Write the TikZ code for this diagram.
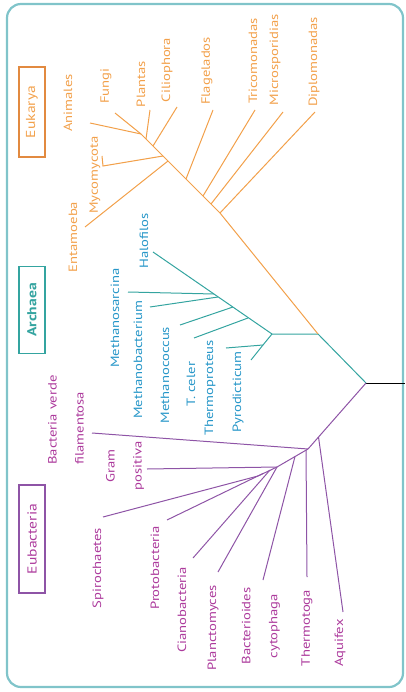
\documentclass[tikz,border=0pt]{standalone}
\usepackage{fontspec}
\setmainfont{PT Sans}

\definecolor{eukorange}{RGB}{242,160,74}
\definecolor{eukboxcol}{RGB}{226,138,64}
\definecolor{arcteal}{RGB}{52,164,160}
\definecolor{arcblue}{RGB}{38,150,200}
\definecolor{eubpurple}{RGB}{142,84,166}
\definecolor{eubmagenta}{RGB}{172,58,156}
\definecolor{framecol}{RGB}{128,196,202}

\newcommand{\labstretch}{1.22}
\newcommand{\pagewidth}{406}
\newcommand{\pageheight}{692}

\begin{document}
\begin{tikzpicture}[x=1pt, y=-1pt,
    lab/.style={rotate=90, xscale=\labstretch, inner sep=0pt, font=\fontsize{12}{14}\selectfont},
    euklab/.style={lab, text=eukorange},
    arclab/.style={lab, text=arcblue},
    eublab/.style={lab, text=eubmagenta},
    twoline/.style={font=\fontsize{12}{27}\selectfont},
    groupbox/.style={rotate=90, xscale=1.2, draw, line width=1.1pt, inner sep=0pt,
      minimum height=26pt, font=\fontsize{13}{15}\selectfont},
    eukline/.style={eukorange, line width=1pt},
    arcline/.style={arcteal, line width=1pt},
    eubline/.style={eubpurple, line width=1pt}]
  \useasboundingbox (0,0) rectangle (\pagewidth,\pageheight);
  % Draw the frame
  \draw[framecol, line width=2.2pt, rounded corners=14pt] (7,4) rectangle (403,687);

  % Define the root and the fork points
  \coordinate (root) at (366,383);
  \coordinate (rootend) at (405,383);
  \coordinate (a0) at (318,334);
  \coordinate (a1) at (272,334);
  \coordinate (a2) at (263,345);
  \coordinate (b0) at (308,449);
  \coordinate (b1) at (277,467);
  \coordinate (b2) at (258,476);
  \coordinate (ebend) at (220,213);
  \coordinate (etop) at (141,134);

  % Draw the trunk
  \draw[line width=1pt] (root) -- (rootend);
  \draw[arcline] (root) -- (a0) -- (a1);
  \draw[eukline] (a0) -- (ebend) -- (etop);
  \draw[eubline] (root) -- (b0) -- (b1) -- (b2);

  % Eukarya
  \node[groupbox, draw=eukboxcol, text=eukorange, minimum width=75pt] (eukarya) at (32,112) {Eukarya};
  \coordinate (jplant) at (146,139);
  \coordinate (jcilio) at (153,146);
  \coordinate (jmyco) at (163,156);
  \coordinate (jentam) at (168,161);
  \coordinate (jflag) at (186,179);
  \coordinate (jtrico) at (203,196);
  \coordinate (jmicro) at (211,204);
  \coordinate (anim) at (90,123);
  \coordinate (fungi) at (115,113);
  \coordinate (plant) at (150,110);
  \coordinate (cilio) at (177,107);
  \coordinate (flag) at (213,110);
  \coordinate (trico) at (255,110);
  \coordinate (micro) at (283,112);
  \coordinate (diplo) at (315,112);
  \coordinate (myco) at (103,166);
  \coordinate (mycotop) at (102,156);
  \coordinate (entam) at (85,227);
  \draw[eukline] (anim) -- (etop);
  \draw[eukline] (fungi) -- (etop);
  \draw[eukline] (plant) -- (jplant);
  \draw[eukline] (cilio) -- (jcilio);
  \draw[eukline] (mycotop) -- (myco) -- (jmyco);
  \draw[eukline] (entam) -- (jentam);
  \draw[eukline] (flag) -- (jflag);
  \draw[eukline] (trico) -- (jtrico);
  \draw[eukline] (micro) -- (jmicro);
  \draw[eukline] (diplo) -- (ebend);
  \node[euklab] (lanim) at (68,103) {Animales};
  \node[euklab] (lfungi) at (106,86) {Fungi};
  \node[euklab] (lplant) at (141,84) {Plantas};
  \node[euklab] (lcilio) at (167,70) {Ciliophora};
  \node[euklab] (lflag) at (207,71) {Flagelados};
  \node[euklab] (ltrico) at (253,61) {Tricomonadas};
  \node[euklab] (lmicro) at (275,60) {Microsporidias};
  \node[euklab] (ldiplo) at (314,62) {Diplomonadas};
  \node[euklab] (lmyco) at (95,175) {Mycomycota};
  \node[euklab] (lentam) at (73,237) {Entamoeba};

  % Archaea
  \node[groupbox, draw=arcteal, text=arcteal, minimum width=72pt, font=\fontsize{13}{15}\selectfont\bfseries] (archaea) at (32,310) {Archaea};
  \coordinate (halo) at (153,252);
  \coordinate (msarc) at (128,292);
  \coordinate (mbact) at (150,307);
  \coordinate (mcocc) at (180,325);
  \coordinate (tceler) at (194,338);
  \coordinate (tprot) at (226,348);
  \coordinate (pyro) at (251,360);
  \draw[arcline] (a1) -- (halo);
  \draw[arcline] (a1) -- (a2);
  \draw[arcline] (msarc) -- (214,294);
  \draw[arcline] (mbact) -- (218,297);
  \draw[arcline] (mcocc) -- (233,307);
  \draw[arcline] (tceler) -- (248,318);
  \draw[arcline] (tprot) -- (a2);
  \draw[arcline] (pyro) -- (a2);
  \node[arclab] (lhalo) at (144,241) {Halofilos};
  \node[arclab] (lmsarc) at (115,318) {Methanosarcina};
  \node[arclab] (lmbact) at (138,360) {Methanobacterium};
  \node[arclab] (lmcocc) at (165,375) {Methanococcus};
  \node[arclab] (ltceler) at (191,384) {T. celer};
  \node[arclab] (ltprot) at (210,388) {Thermoproteus};
  \node[arclab] (lpyro) at (238,392) {Pyrodicticum};

  % Eubacteria
  \node[groupbox, draw=eubpurple, text=eubmagenta, minimum width=90pt] (eubacteria) at (32,539) {Eubacteria};
  \coordinate (verde) at (92,433);
  \coordinate (gram) at (147,469);
  \coordinate (spiro) at (103,517);
  \coordinate (proto) at (167,520);
  \coordinate (ciano) at (193,558);
  \coordinate (planc) at (218,572);
  \coordinate (bacter) at (263,580);
  \coordinate (thermo) at (307,577);
  \coordinate (aqui) at (343,612);
  \draw[eubline] (verde) -- (b0);
  \draw[eubline] (thermo) -- (306,450);
  \draw[eubline] (aqui) -- (318.5,437);
  \draw[eubline] (bacter) -- (295,456.5);
  \draw[eubline] (gram) -- (b1);
  \draw[eubline] (planc) -- (b1);
  \draw[eubline] (ciano) -- (270,470);
  \draw[eubline] (proto) -- (263,473.5);
  \draw[eubline] (spiro) -- (b2);
  \node[eublab, twoline, align=left] (lverde) at (66,420) {Bacteria verde\\filamentosa};
  \node[eublab, twoline, align=center] (lgram) at (125,466) {Gram\\positiva};
  \node[eublab] (lspiro) at (98,568) {Spirochaetes};
  \node[eublab] (lproto) at (155,568) {Protobacteria};
  \node[eublab] (lciano) at (182,610) {Cianobacteria};
  \node[eublab] (lplanc) at (213,628) {Planctomyces};
  \node[eublab, twoline, align=center] (lbacter) at (261,626) {Bacterioides\\cytophaga};
  \node[eublab] (lthermo) at (307,628) {Thermotoga};
  \node[eublab] (laqui) at (340,643) {Aquifex};
\end{tikzpicture}
\end{document}
